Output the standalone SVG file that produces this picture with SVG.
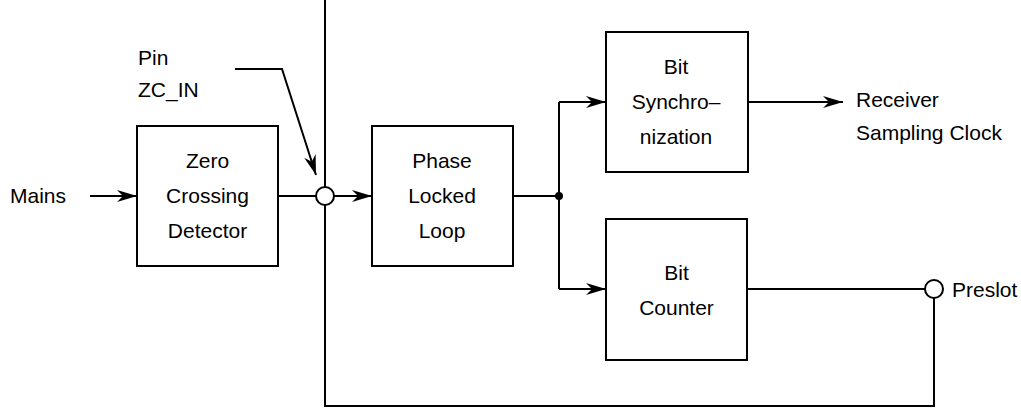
<svg xmlns="http://www.w3.org/2000/svg" width="1021" height="409" viewBox="0 0 1021 409">
  <style>
    .box { fill: #ffffff; stroke: #000000; stroke-width: 2; }
    .wire { fill: none; stroke: #000000; stroke-width: 2; }
    .pin { fill: #ffffff; stroke: #000000; stroke-width: 2; }
    text { font-family: "Liberation Sans", Arial, sans-serif; font-size: 21px; fill: #000000; }
    .c { text-anchor: middle; }
  </style>
  <defs>
    <marker id="arrow" markerUnits="userSpaceOnUse" markerWidth="24" markerHeight="16" viewBox="-22 -8 24 16" refX="0" refY="0" orient="auto">
      <path d="M0,0 L-20,-6 L-14,0 L-20,6 Z" fill="#000000"/>
    </marker>
  </defs>

  <!-- connectors -->
  <g id="connectors">
    <line class="wire" x1="90" y1="196" x2="137" y2="196" marker-end="url(#arrow)"/>
    <line class="wire" x1="278" y1="196" x2="316" y2="196"/>
    <line class="wire" x1="334" y1="196" x2="372" y2="196" marker-end="url(#arrow)"/>
    <polyline class="wire" points="235,69 282,69 316,175" marker-end="url(#arrow)"/>
    <line class="wire" x1="513" y1="196" x2="559" y2="196"/>
    <line class="wire" x1="559" y1="102" x2="559" y2="289"/>
    <line class="wire" x1="559" y1="102" x2="606" y2="102" marker-end="url(#arrow)"/>
    <line class="wire" x1="559" y1="289" x2="606" y2="289" marker-end="url(#arrow)"/>
    <line class="wire" x1="748" y1="102" x2="843" y2="102" marker-end="url(#arrow)"/>
    <line class="wire" x1="747" y1="289" x2="925" y2="289"/>
    <polyline class="wire" points="934,298 934,406 325,406 325,0"/>
    <circle cx="559" cy="196" r="4" fill="#000000"/>
  </g>

  <!-- pins -->
  <g id="pin-zc-in">
    <circle class="pin" cx="325" cy="196" r="9"/>
    <text x="138" y="65">Pin</text>
    <text x="138" y="97">ZC_IN</text>
  </g>
  <g id="pin-preslot">
    <circle class="pin" cx="934" cy="289" r="9"/>
    <text x="952" y="297">Preslot</text>
  </g>

  <!-- signal labels -->
  <g id="mains">
    <text x="10" y="203">Mains</text>
  </g>
  <g id="receiver-clock">
    <text x="856" y="107">Receiver</text>
    <text x="856" y="140">Sampling Clock</text>
  </g>

  <!-- blocks -->
  <g id="zero-crossing-detector">
    <rect class="box" x="137" y="126" width="141" height="140"/>
    <text class="c" x="207.5" y="168">Zero</text>
    <text class="c" x="207.5" y="203">Crossing</text>
    <text class="c" x="207.5" y="238">Detector</text>
  </g>
  <g id="phase-locked-loop">
    <rect class="box" x="372" y="126" width="141" height="140"/>
    <text class="c" x="442" y="168">Phase</text>
    <text class="c" x="442" y="203">Locked</text>
    <text class="c" x="442" y="238">Loop</text>
  </g>
  <g id="bit-synchronization">
    <rect class="box" x="606" y="32" width="142" height="140"/>
    <text class="c" x="676" y="74">Bit</text>
    <text class="c" x="676" y="109">Synchro–</text>
    <text class="c" x="676" y="144">nization</text>
  </g>
  <g id="bit-counter">
    <rect class="box" x="606" y="219" width="141" height="141"/>
    <text class="c" x="676.5" y="280">Bit</text>
    <text class="c" x="676.5" y="315">Counter</text>
  </g>
</svg>
